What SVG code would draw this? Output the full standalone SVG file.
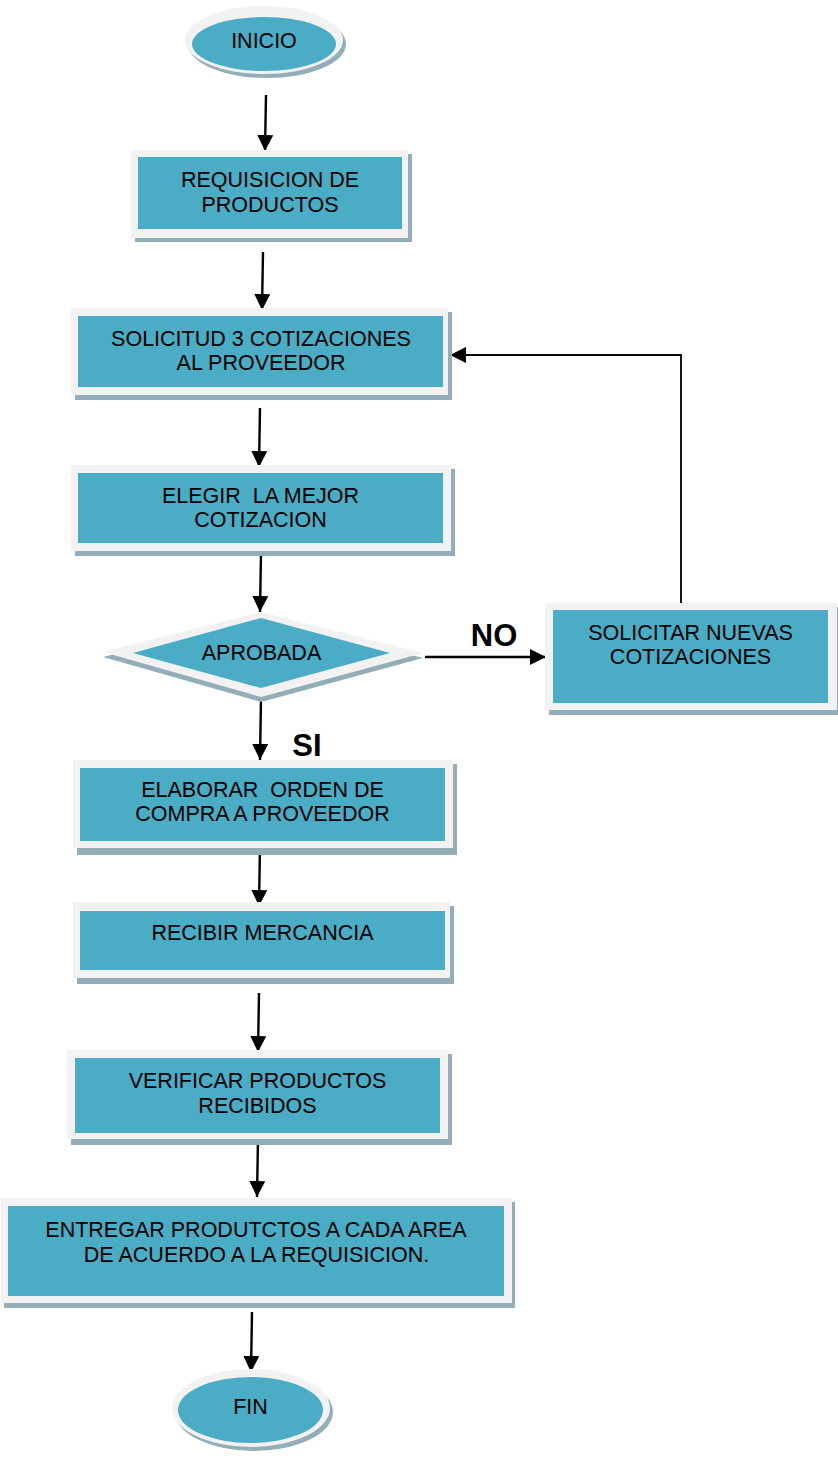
<svg xmlns="http://www.w3.org/2000/svg" width="838" height="1459" viewBox="0 0 838 1459">
<style>
.sh{fill:#93adb9}
.out{fill:#f2f2f2}
.in{fill:#4bacc6}
.t{font-family:"Liberation Sans",Arial,sans-serif;font-size:21.5px;fill:#000;text-anchor:middle}
.lb{font-family:"Liberation Sans",Arial,sans-serif;font-size:31px;font-weight:bold;fill:#000;text-anchor:middle}
.c{stroke:#000;stroke-width:2.4;fill:none}
</style>
<defs>
<marker id="ah" markerUnits="userSpaceOnUse" markerWidth="16" markerHeight="16" refX="16" refY="8" orient="auto" viewBox="0 0 16 16">
<path d="M0,0 L16,8 L0,16 z" fill="#000"/>
</marker>
</defs>
<rect width="838" height="1459" fill="#fff"/>

<g id="connectors">
<line class="c" x1="266" y1="95" x2="265" y2="151" marker-end="url(#ah)"/>
<line class="c" x1="263" y1="252" x2="262" y2="310" marker-end="url(#ah)"/>
<line class="c" x1="260" y1="408" x2="259" y2="467" marker-end="url(#ah)"/>
<line class="c" x1="261" y1="553" x2="260" y2="612" marker-end="url(#ah)"/>
<line class="c" x1="261" y1="697" x2="260" y2="760" marker-end="url(#ah)"/>
<line class="c" x1="260" y1="845" x2="259" y2="906" marker-end="url(#ah)"/>
<line class="c" x1="259" y1="993" x2="258" y2="1052" marker-end="url(#ah)"/>
<line class="c" x1="258" y1="1138" x2="257" y2="1197" marker-end="url(#ah)"/>
<line class="c" x1="252" y1="1312" x2="251" y2="1372" marker-end="url(#ah)"/>
<line class="c" x1="425" y1="657" x2="546" y2="657" marker-end="url(#ah)"/>
<polyline class="c" style="stroke-width:1.8" points="681,605 681,355 450,355" marker-end="url(#ah)"/>
<text class="lb" x="494" y="646">NO</text>
<text class="lb" x="307" y="756">SI</text>
</g>

<g id="inicio">
<ellipse class="sh" cx="267" cy="44" rx="79" ry="34"/>
<ellipse class="out" cx="264" cy="40" rx="79" ry="34"/>
<ellipse class="in" cx="264" cy="44" rx="72" ry="27"/>
<text class="t" x="264" y="48">INICIO</text>
</g>

<g id="requisicion">
<rect class="sh" x="135" y="154" width="277" height="88"/>
<rect class="out" x="131" y="150" width="277" height="88"/>
<rect class="in" x="138" y="157" width="264" height="72"/>
<text class="t" x="270" y="187">REQUISICION DE</text>
<text class="t" x="270" y="212">PRODUCTOS</text>
</g>

<g id="solicitud">
<rect class="sh" x="75" y="312" width="377" height="88"/>
<rect class="out" x="71" y="308" width="377" height="87"/>
<rect class="in" x="78" y="316" width="365" height="71"/>
<text class="t" x="261" y="346">SOLICITUD 3 COTIZACIONES</text>
<text class="t" x="261" y="370">AL PROVEEDOR</text>
</g>

<g id="elegir">
<rect class="sh" x="75" y="469" width="380" height="87"/>
<rect class="out" x="71" y="465" width="380" height="86"/>
<rect class="in" x="78" y="473" width="365" height="70"/>
<text class="t" x="260.5" y="503" xml:space="preserve">ELEGIR  LA MEJOR</text>
<text class="t" x="260.5" y="527">COTIZACION</text>
</g>

<g id="aprobada">
<polygon class="sh" points="103,657 261,617 423,658 261,702"/>
<polygon class="out" points="103,652 261,612 423,653 261,697"/>
<polygon class="in" points="133,653 261,618 390,653 261,688"/>
<text class="t" x="261.5" y="660">APROBADA</text>
</g>

<g id="solicitar">
<rect class="sh" x="549" y="607" width="292" height="108"/>
<rect class="out" x="545" y="603" width="292" height="107"/>
<rect class="in" x="553" y="610" width="275" height="93"/>
<text class="t" x="690.5" y="640">SOLICITAR NUEVAS</text>
<text class="t" x="690.5" y="664">COTIZACIONES</text>
</g>

<g id="elaborar">
<rect class="sh" x="77" y="764" width="380" height="91"/>
<rect class="out" x="73" y="760" width="380" height="88"/>
<rect class="in" x="80" y="768" width="365" height="73"/>
<text class="t" x="262.5" y="797" xml:space="preserve">ELABORAR  ORDEN DE</text>
<text class="t" x="262.5" y="821">COMPRA A PROVEEDOR</text>
</g>

<g id="recibir">
<rect class="sh" x="77" y="906" width="377" height="78"/>
<rect class="out" x="73" y="902" width="377" height="76"/>
<rect class="in" x="80" y="911" width="365" height="59"/>
<text class="t" x="262.5" y="940">RECIBIR MERCANCIA</text>
</g>

<g id="verificar">
<rect class="sh" x="71" y="1054" width="381" height="91"/>
<rect class="out" x="67" y="1050" width="381" height="89"/>
<rect class="in" x="75" y="1058" width="365" height="75"/>
<text class="t" x="257.5" y="1088">VERIFICAR PRODUCTOS</text>
<text class="t" x="257.5" y="1113">RECIBIDOS</text>
</g>

<g id="entregar">
<rect class="sh" x="4" y="1202" width="511" height="106"/>
<rect class="out" x="1" y="1198" width="511" height="105"/>
<rect class="in" x="8" y="1206" width="496" height="90"/>
<text class="t" x="256" y="1237">ENTREGAR PRODUTCTOS A CADA AREA</text>
<text class="t" x="256.5" y="1262">DE ACUERDO A LA REQUISICION.</text>
</g>

<g id="fin">
<ellipse class="sh" cx="254" cy="1412" rx="79" ry="39"/>
<ellipse class="out" cx="251" cy="1408" rx="79" ry="39"/>
<ellipse class="in" cx="250.5" cy="1410" rx="72.5" ry="33"/>
<text class="t" x="250.5" y="1414">FIN</text>
</g>
</svg>
